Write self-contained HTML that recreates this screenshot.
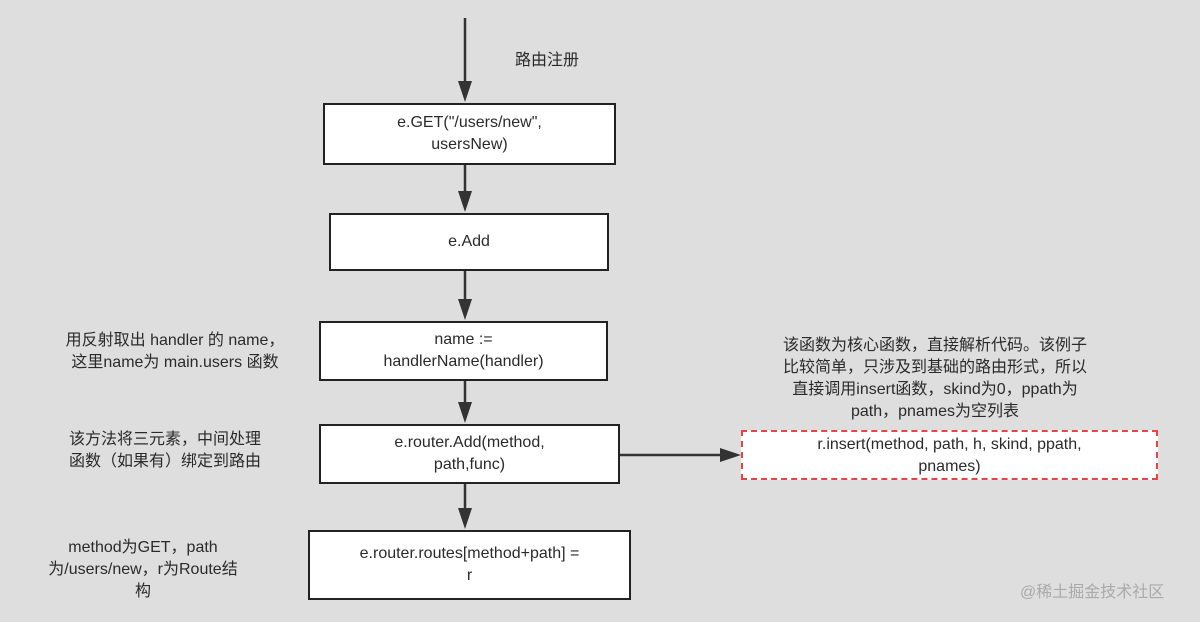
<!DOCTYPE html><html><head><meta charset="utf-8"><style>
body{margin:0;width:1200px;height:622px;background:#dedede;position:relative;overflow:hidden;font-family:"Liberation Sans","Noto Sans CJK SC",sans-serif;color:#2a2a2a}
.b{position:absolute;background:#fff;border:2px solid #222;box-sizing:border-box;display:flex;align-items:center;justify-content:center;text-align:center;font-size:16px;line-height:22px}
.t{position:absolute;font-size:16px;line-height:22px;text-align:center;white-space:nowrap}
</style></head><body>
<svg width="1200" height="622" style="position:absolute;left:0;top:0">
<g stroke="#333" stroke-width="2.5" fill="none">
<line x1="465" y1="18" x2="465" y2="85"/>
<line x1="465" y1="165" x2="465" y2="195"/>
<line x1="465" y1="271" x2="465" y2="303"/>
<line x1="465" y1="381" x2="465" y2="406"/>
<line x1="465" y1="484" x2="465" y2="512"/>
<line x1="620" y1="455" x2="725" y2="455"/>
</g>
<g fill="#333">
<polygon points="458,81 472,81 465,102"/>
<polygon points="458,191 472,191 465,212"/>
<polygon points="458,299 472,299 465,320"/>
<polygon points="458,402 472,402 465,423"/>
<polygon points="458,508 472,508 465,529"/>
<polygon points="720,448 720,462 741,455"/>
</g></svg>
<div class="t" style="left:515px;top:50px">路由注册</div>
<div class="b" style="left:323px;top:103px;width:293px;height:62px">e.GET("/users/new",<br>usersNew)</div>
<div class="b" style="left:329px;top:213px;width:280px;height:58px">e.Add</div>
<div class="b" style="left:319px;top:321px;width:289px;height:60px">name :=<br>handlerName(handler)</div>
<div class="b" style="left:319px;top:424px;width:301px;height:60px">e.router.Add(method,<br>path,func)</div>
<div class="b" style="left:308px;top:530px;width:323px;height:70px">e.router.routes[method+path] =<br>r</div>
<div class="b" style="left:741px;top:430px;width:417px;height:50px;border:2.5px dashed #e84444;align-items:flex-start;padding-top:2px">r.insert(method, path, h, skind, ppath,<br>pnames)</div>
<div class="t" style="left:40px;top:330px;width:270px">用反射取出 handler 的 name，<br>这里name为 main.users 函数</div>
<div class="t" style="left:40px;top:429px;width:250px">该方法将三元素，中间处理<br>函数（如果有）绑定到路由</div>
<div class="t" style="left:28px;top:537px;width:230px">method为GET，path<br>为/users/new，r为Route结<br>构</div>
<div class="t" style="left:735px;top:335px;width:400px">该函数为核心函数，直接解析代码。该例子<br>比较简单，只涉及到基础的路由形式，所以<br>直接调用insert函数，skind为0，ppath为<br>path，pnames为空列表</div>
<div class="t" style="left:1020px;top:582px;color:#aaa;font-size:16px">@稀土掘金技术社区</div>
</body></html>
